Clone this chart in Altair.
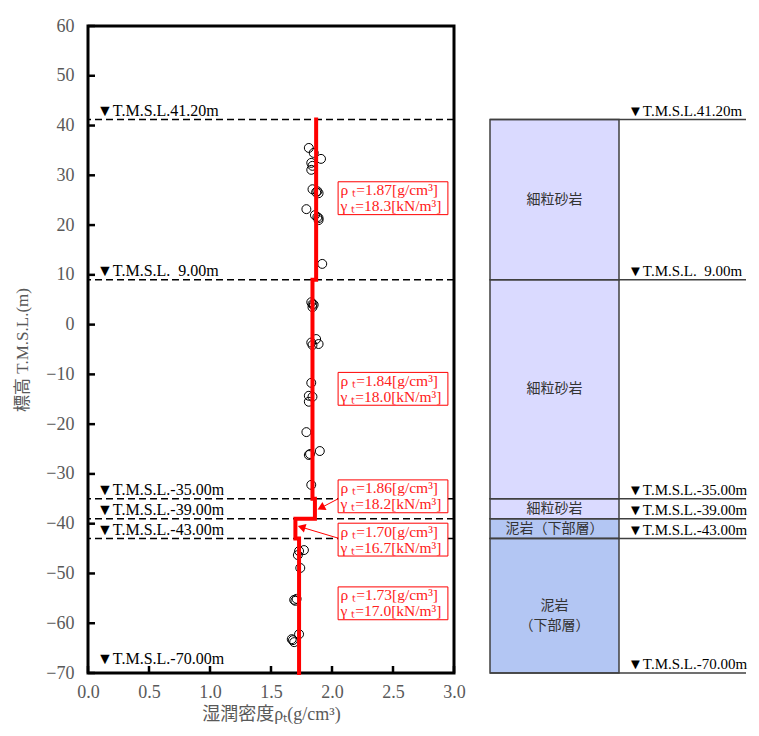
import altair as alt
import pandas as pd
import math

# ---------------- data ----------------
rho_pts = [1.81, 1.85, 1.91, 1.83, 1.84, 1.83, 1.84, 1.88, 1.89, 1.87, 1.79, 1.86, 1.89, 1.89, 1.88, 1.92,
           1.83, 1.84, 1.85, 1.84, 1.87, 1.83, 1.89, 1.84, 1.83, 1.81, 1.84, 1.81, 1.79, 1.90, 1.81, 1.82, 1.83,
           1.73, 1.77, 1.72, 1.74, 1.69, 1.70, 1.71, 1.73, 1.68, 1.69, 1.67]
elev_pts = [35.5, 34.5, 33.3, 32.5, 31.9, 31.1, 27.2, 26.8, 26.4, 26.6, 23.2, 22.0, 21.4, 21.0, 21.6, 12.2,
            4.5, 4.1, 4.0, 3.5, -2.9, -3.6, -3.9, -4.1, -11.7, -14.3, -14.5, -15.5, -21.6, -25.4, -26.2, -26.0, -32.2,
            -45.5, -45.3, -46.3, -48.9, -55.3, -55.5, -55.1, -62.2, -63.4, -63.8, -63.2]

seg_top = [41.2, 9.0, -35.0, -39.0, -43.0]
seg_bottom = [9.0, -35.0, -39.0, -43.0, -70.0]
seg_rho = [1.87, 1.84, 1.86, 1.70, 1.73]
seg_gamma = [18.3, 18.0, 18.2, 16.7, 17.0]

levels = [41.2, 9.0, -35.0, -39.0, -43.0, -70.0]
level_labels = ["▼T.M.S.L.41.20m", "▼T.M.S.L.\u20079.00m", "▼T.M.S.L.-35.00m",
                "▼T.M.S.L.-39.00m", "▼T.M.S.L.-43.00m", "▼T.M.S.L.-70.00m"]

box_center = [25.4, -12.9, -34.5, -43.2, -56.0]

arrow_from_x = [2.05, 2.05]
arrow_from_y = [-35.0, -42.9]
arrow_to_x = [1.91, 1.75]
arrow_to_y = [-36.8, -40.7]

rock_names = ["細粒砂岩", "細粒砂岩", "細粒砂岩", "泥岩（下部層）", "泥岩\n（下部層）"]
rock_group = ["細粒砂岩", "細粒砂岩", "細粒砂岩", "泥岩", "泥岩"]

x_ticks = [0.0, 0.5, 1.0, 1.5, 2.0, 2.5, 3.0]
y_ticks = list(range(-70, 61, 10))

# ---------------- tables ----------------
W, H = 366, 647
RW = 256
FONT = "Liberation Serif, Noto Sans CJK JP"
GRAY = "#595959"

pts = pd.DataFrame({"rho": rho_pts, "elev": elev_pts})

path_rows = []
k = 0
for r, t, b in zip(seg_rho, seg_top, seg_bottom):
    path_rows.append({"rho": r, "elev": t, "o": k}); k += 1
    path_rows.append({"rho": r, "elev": b, "o": k}); k += 1
path = pd.DataFrame(path_rows)

lv = pd.DataFrame({"level": levels, "label": level_labels})

boxes = pd.DataFrame({
    "c": box_center,
    "txt": [f"ρ ₜ={r:.2f}[g/cm³]\nγ ₜ={g:.1f}[kN/m³]" for r, g in zip(seg_rho, seg_gamma)],
})

arrows_rows = []
for i in range(len(arrow_from_x)):
    arrows_rows.append({"a": i, "o": 0, "x": arrow_from_x[i], "y": arrow_from_y[i]})
    arrows_rows.append({"a": i, "o": 1, "x": arrow_to_x[i], "y": arrow_to_y[i]})
arrows = pd.DataFrame(arrows_rows)

px_x = W / 3.0
px_y = H / 130.0
heads = pd.DataFrame({"x": arrow_to_x, "y": arrow_to_y})
heads["ang"] = [
    (math.degrees(math.atan2((tx - fx) * px_x, (ty - fy) * px_y))) % 360
    for fx, fy, tx, ty in zip(arrow_from_x, arrow_from_y, arrow_to_x, arrow_to_y)
]

xs = alt.Scale(domain=[0, 3], nice=False, zero=False)
ys = alt.Scale(domain=[-70, 60], nice=False, zero=False)

x_axis = alt.Axis(values=x_ticks, format=".1f", ticks=False, domain=False, grid=False,
                  labelPadding=10, labelFontSize=18, labelColor=GRAY, labelFlush=False,
                  title="湿潤密度ρₜ(g/cm³)", titleFontSize=18, titleColor=GRAY,
                  titleFontWeight="normal", titlePadding=4, labelFont=FONT, titleFont=FONT)
y_axis = alt.Axis(values=y_ticks, ticks=False, domain=False, grid=False,
                  labelPadding=14, labelFontSize=18, labelColor=GRAY, labelFlush=False,
                  title="標高 T.M.S.L.(m)", titleFontSize=17, titleColor=GRAY,
                  titleFontWeight="normal", titlePadding=14, labelFont=FONT, titleFont=FONT)

dashed = alt.Chart(lv).transform_filter("datum.level > -70").mark_rule(
    color="black", strokeDash=[7, 4], strokeWidth=1.5).encode(
    y=alt.Y("level:Q", scale=ys, axis=y_axis))

lvl_text = alt.Chart(lv).transform_filter("datum.level > -70").mark_text(
    align="left", baseline="bottom", dy=-1, fontSize=16, font=FONT, color="black").encode(
    x=alt.value(9), y=alt.Y("level:Q", scale=ys), text="label:N")
lvl_text_bottom = alt.Chart(lv).transform_filter("datum.level <= -70").mark_text(
    align="left", baseline="bottom", dy=-6, fontSize=16, font=FONT, color="black").encode(
    x=alt.value(9), y=alt.Y("level:Q", scale=ys), text="label:N")

ytick_marks = alt.Chart(pd.DataFrame({"t": y_ticks})).mark_rule(color="black", strokeWidth=2.5).encode(
    y=alt.Y("t:Q", scale=ys), x=alt.value(0), x2=alt.value(7))
xtick_marks = alt.Chart(pd.DataFrame({"t": x_ticks})).mark_rule(color="black", strokeWidth=2.5).encode(
    x=alt.X("t:Q", scale=xs), y=alt.value(H), y2=alt.value(H - 7))

points = alt.Chart(pts).mark_point(shape="circle", filled=False, color="black", size=80,
                                   strokeWidth=1, opacity=1).encode(
    x=alt.X("rho:Q", scale=xs, axis=x_axis), y=alt.Y("elev:Q", scale=ys))

step = alt.Chart(path).mark_line(color="#ff0000", strokeWidth=4, strokeCap="square").encode(
    x=alt.X("rho:Q", scale=xs), y=alt.Y("elev:Q", scale=ys), order="o:Q")

arrow_lines = alt.Chart(arrows).mark_line(color="#ff0000", strokeWidth=1).encode(
    x=alt.X("x:Q", scale=xs), y=alt.Y("y:Q", scale=ys), detail="a:N", order="o:Q")
arrow_heads = alt.Chart(heads).mark_point(shape="triangle-up", filled=True, color="#ff0000",
                                           size=80, opacity=1).encode(
    x=alt.X("x:Q", scale=xs), y=alt.Y("y:Q", scale=ys), angle=alt.Angle("ang:Q", scale=None))

box_rect = alt.Chart(boxes).transform_calculate(
    y1="datum.c + 3.3", y2="datum.c - 3.3").mark_rect(
    fill="white", stroke="#ff0000", strokeWidth=1).encode(
    x=alt.value(2.05 * px_x), x2=alt.value(2.95 * px_x),
    y=alt.Y("y1:Q", scale=ys), y2="y2:Q")
box_text = alt.Chart(boxes).mark_text(
    align="left", baseline="middle", lineBreak="\n", lineHeight=16, fontSize=15.5,
    font=FONT, color="#ff2020", dy=-8).encode(
    x=alt.value(2.07 * px_x), y=alt.Y("c:Q", scale=ys), text="txt:N")

left = alt.layer(
    dashed, lvl_text, lvl_text_bottom, ytick_marks, xtick_marks, points, step,
    box_rect, box_text, arrow_lines, arrow_heads
).properties(width=W, height=H, view=alt.ViewBackground(stroke="black", strokeWidth=3, fill="white"))

# ---------------- right column ----------------
rocks = pd.DataFrame({"top": seg_top, "bottom": seg_bottom, "name": rock_names, "grp": rock_group})

rect = alt.Chart(rocks).mark_rect(stroke="#404040", strokeWidth=1.5).encode(
    x=alt.value(0), x2=alt.value(129),
    y=alt.Y("top:Q", scale=ys, axis=None), y2="bottom:Q",
    color=alt.Color("grp:N", scale=alt.Scale(domain=["細粒砂岩", "泥岩"], range=["#DADAFF", "#B3C6F3"]),
                    legend=None))
rect_text = alt.Chart(rocks).transform_calculate(mid="(datum.top + datum.bottom) / 2").mark_text(
    align="center", baseline="middle", lineBreak="\n", lineHeight=20, fontSize=14,
    font="Noto Sans CJK JP", color="#333333").encode(
    x=alt.value(64.5), y=alt.Y("mid:Q", scale=ys), text="name:N")
r_rules = alt.Chart(lv).mark_rule(color="#404040", strokeWidth=1.5).encode(
    y=alt.Y("level:Q", scale=ys), x=alt.value(0), x2=alt.value(RW))
r_text = alt.Chart(lv).mark_text(
    align="left", baseline="bottom", dy=-1, fontSize=15, font=FONT, color="black").encode(
    x=alt.value(138), y=alt.Y("level:Q", scale=ys), text="label:N")

right = alt.layer(rect, r_rules, rect_text, r_text).properties(
    width=RW, height=H, view=alt.ViewBackground(strokeWidth=0))

chart = alt.hconcat(left, right, spacing=22).properties(
    padding={"left": 4, "top": 7, "right": 0, "bottom": 0}
).configure(font=FONT).configure_view(strokeWidth=0)

chart.save("out.html", embed_options={"renderer": "svg", "actions": False})
